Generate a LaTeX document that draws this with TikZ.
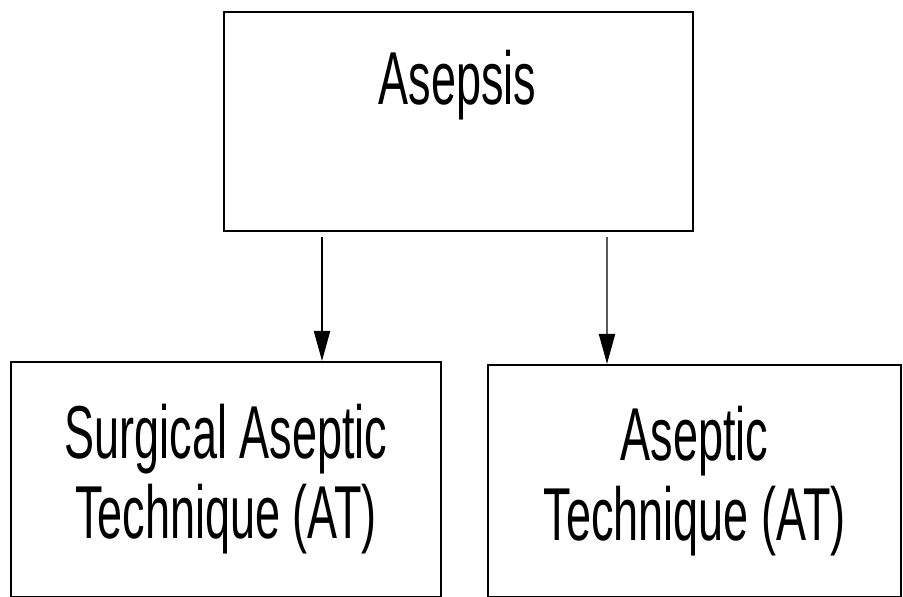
\documentclass[tikz,border=0pt]{standalone}
\usepackage{fontspec}
\newfontfamily\boxfont[FakeStretch=0.6]{Liberation Sans}
\usetikzlibrary{arrows.meta,positioning}

\tikzset{
  box/.style={draw,line width=1.1pt,rectangle,inner sep=0pt},
  boxtext/.style={font=\boxfont\fontsize{37.5pt}{40pt}\selectfont,align=center,inner sep=0pt},
  link/.style={line width=1pt,-{Triangle[length=15pt,width=8pt]}}
}

\begin{document}
\begin{tikzpicture}[x=0.5pt,y=-0.5pt]
  \useasboundingbox (0,0) rectangle (903,597);

  \node[box,minimum width=234.5pt,minimum height=109.5pt,anchor=north west] (asepsis) at (223,11) {};
  \node[boxtext,anchor=base] (asepsislbl) at (457.5,105) {Asepsis};

  \node[box,minimum width=215pt,minimum height=117.5pt,anchor=north west] (surgical) at (10,361) {};
  \node[boxtext] (surgicallbl) at (surgical) {Surgical Aseptic\\Technique (AT)};

  \node[box,minimum width=206.5pt,minimum height=116pt,anchor=north west] (aseptic) at (487,364) {};
  \node[boxtext] (asepticlbl) at (aseptic) {Aseptic\\Technique (AT)};

  % arrows
  \coordinate (fromleft) at (322,237);
  \coordinate (fromright) at (607,237);
  \draw[link] (fromleft) -- (fromleft |- surgical.north);
  \draw[link,black!65,-{Triangle[length=15pt,width=8pt,black]}] (fromright) -- (fromright |- aseptic.north);
\end{tikzpicture}
\end{document}
